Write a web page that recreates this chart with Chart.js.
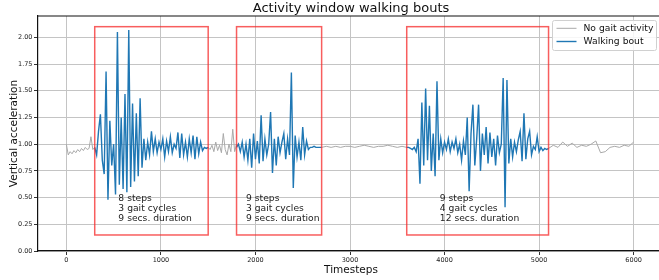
<!DOCTYPE html>
<html>
<head>
<meta charset="utf-8">
<script src="https://cdn.jsdelivr.net/npm/chart.js@4"></script>
<style>
  html, body { margin: 0; padding: 0; background: #fff; overflow: hidden; }
  #wrap { width: 664px; height: 280px; }
</style>
</head>
<body>
<div id="wrap"><canvas id="c" width="664" height="280"></canvas></div>
<script>
// quiet (no gait) stretches: start timestep, sample step, values
const idleStart = [0, 1500, 2700, 5100];
const idleStep = [20, 20, 50, 50];
const idleA = [1.00, 0.90, 0.93, 0.91, 0.94, 0.92, 0.95, 0.93, 0.96, 0.94, 0.97, 0.95, 0.96, 1.07, 0.95, 0.97];
const idleB = [0.97, 0.95, 0.99, 0.93, 1.02, 0.94, 0.99, 0.92, 1.10, 0.95, 0.90, 1.00, 0.93, 1.14, 0.93, 1.00];
const idleC = [0.97, 0.98, 0.97, 0.98, 0.97, 0.98, 0.98, 0.97, 0.98, 0.99, 0.98, 0.97, 0.98, 0.98, 0.99, 0.98, 0.97, 0.98, 0.97];
const idleD = [0.96, 0.99, 0.97, 1.02, 0.98, 1.01, 0.97, 0.99, 0.98, 1.00, 1.03, 0.92, 0.93, 0.97, 0.98, 0.97, 0.99, 0.98, 1.02];

// walking bouts, sampled every 20 timesteps
const boutStart = [300, 1800, 3600];
const boutStep = 20;
const boutA = [0.97, 0.90, 1.12, 1.28, 0.85, 0.72, 1.68, 0.48, 1.22, 0.80,
  1.00, 0.53, 2.05, 0.62, 1.25, 0.58, 1.47, 0.55, 2.07, 0.60,
  1.38, 0.65, 1.29, 0.70, 1.43, 0.78, 1.05, 0.85, 1.02, 0.90,
  1.12, 0.93, 1.05, 0.92, 1.02, 0.95, 1.05, 0.88, 1.03, 0.93,
  1.07, 0.92, 1.00, 0.96, 1.11, 0.87, 1.10, 0.90, 1.02, 0.88,
  1.05, 0.92, 1.08, 0.86, 1.07, 0.91, 1.02, 0.94, 0.97, 0.96, 0.97];
const boutB = [0.97, 1.00, 0.93, 1.02, 0.88, 1.00, 0.85, 1.05, 0.78, 1.10,
  0.86, 1.03, 0.82, 1.27, 0.84, 1.05, 0.90, 1.00, 1.30, 0.73,
  1.05, 0.80, 1.07, 0.92, 1.02, 1.10, 0.86, 1.05, 0.90, 1.67,
  0.59, 1.08, 0.88, 1.02, 0.85, 1.16, 0.90, 1.03, 0.95, 0.97,
  0.97, 0.98, 0.97, 0.97, 0.97, 0.97];
const boutC = [0.97, 0.97, 0.96, 0.95, 0.97, 0.93, 1.05, 0.63, 1.39, 0.80,
  1.52, 0.85, 1.36, 0.75, 1.10, 0.70, 1.59, 0.85, 1.05, 0.92,
  1.02, 0.95, 1.05, 0.93, 1.02, 0.96, 1.05, 0.92, 1.00, 0.85,
  1.03, 0.90, 1.25, 0.56, 1.10, 1.37, 0.80, 1.05, 1.37, 0.75,
  1.10, 0.90, 1.16, 0.82, 1.11, 0.88, 1.05, 0.80, 1.08, 0.92,
  1.00, 1.62, 0.41, 1.60, 0.82, 1.05, 0.88, 1.02, 0.93, 1.04,
  1.12, 0.84, 1.29, 0.86, 1.05, 1.12, 0.90, 0.98, 0.95, 1.07,
  0.93, 0.97, 0.94, 0.96, 0.95, 0.96];

// red boxes around each bout and their notes
const boxFrom = [300, 1800, 3600];
const boxTo = [1500, 2700, 5100];
const boxLow = 0.15;
const boxHigh = 2.1;
const noteX = [550, 1900, 3950];
const noteLineY = [0.49, 0.395, 0.30];
const boutNotes = [
  ['8 steps', '3 gait cycles', '9 secs. duration'],
  ['9 steps', '3 gait cycles', '9 secs. duration'],
  ['9 steps', '4 gait cycles', '12 secs. duration']
];

const xTicks = [0, 1000, 2000, 3000, 4000, 5000, 6000];
const yTicks = [0, 0.25, 0.5, 0.75, 1.0, 1.25, 1.5, 1.75, 2.0];

function toPoints(starts, steps, lists) {
  const pts = [];
  lists.forEach((vals, k) => {
    const step = Array.isArray(steps) ? steps[k] : steps;
    vals.forEach((v, i) => pts.push({ x: starts[k] + i * step, y: v }));
    pts.push({ x: starts[k] + vals.length * step, y: null });
  });
  return pts;
}

const FONT = '"DejaVu Sans", sans-serif';
const BLUE = '#1f77b4';
const GREY = '#a9a9a9';

const extras = {
  id: 'extras',
  afterDatasetsDraw(chart) {
    const { ctx, chartArea: a, scales: { x, y } } = chart;
    ctx.save();
    // boxes
    ctx.strokeStyle = 'rgba(245,40,40,0.75)';
    ctx.lineWidth = 1.5;
    boxFrom.forEach((f, i) => {
      const x0 = x.getPixelForValue(f), x1 = x.getPixelForValue(boxTo[i]);
      const y0 = y.getPixelForValue(boxHigh), y1 = y.getPixelForValue(boxLow);
      ctx.strokeRect(x0, y0, x1 - x0, y1 - y0);
    });
    // notes
    ctx.fillStyle = '#222';
    ctx.font = '9.2px ' + FONT;
    ctx.textBaseline = 'middle';
    ctx.textAlign = 'left';
    boutNotes.forEach((lines, i) => {
      lines.forEach((t, j) => ctx.fillText(t, x.getPixelForValue(noteX[i]), y.getPixelForValue(noteLineY[j])));
    });
    // top spine
    ctx.strokeStyle = '#111';
    ctx.lineWidth = 1.2;
    ctx.beginPath();
    ctx.moveTo(a.left, a.top);
    ctx.lineTo(a.right, a.top);
    ctx.stroke();
    ctx.restore();
  },
  afterDraw(chart) {
    const { ctx, chartArea: a } = chart;
    ctx.save();
    // title and axis labels
    ctx.fillStyle = '#111';
    ctx.font = '13px ' + FONT;
    ctx.textAlign = 'center';
    ctx.textBaseline = 'alphabetic';
    ctx.fillText('Activity window walking bouts', 351, 12);
    ctx.font = '10.5px ' + FONT;
    ctx.fillText('Timesteps', 351, 273);
    ctx.save();
    ctx.translate(16.5, (a.top + a.bottom) / 2);
    ctx.rotate(-Math.PI / 2);
    ctx.fillText('Vertical acceleration', 0, 0);
    ctx.restore();
    // legend
    const lx = 552.5, ly = 20.5, lw = 104, lh = 30;
    ctx.fillStyle = 'rgba(255,255,255,0.85)';
    ctx.strokeStyle = '#d0d0d0';
    ctx.lineWidth = 1;
    ctx.beginPath();
    ctx.roundRect(lx, ly, lw, lh, 2);
    ctx.fill();
    ctx.stroke();
    const items = [[chart.data.datasets[1].label, GREY, 1, 28.3], [chart.data.datasets[0].label, BLUE, 1.4, 41.5]];
    ctx.font = '9.2px ' + FONT;
    ctx.textAlign = 'left';
    ctx.textBaseline = 'middle';
    items.forEach(([label, col, w, yy]) => {
      ctx.strokeStyle = col;
      ctx.lineWidth = w;
      ctx.beginPath();
      ctx.moveTo(556.5, yy);
      ctx.lineTo(576.5, yy);
      ctx.stroke();
      ctx.fillStyle = '#111';
      ctx.fillText(label, 583.5, yy + 0.5);
    });
    ctx.restore();
  }
};

new Chart(document.getElementById('c'), {
  type: 'line',
  data: {
    datasets: [
      {
        label: 'Walking bout',
        data: toPoints(boutStart, boutStep, [boutA, boutB, boutC]),
        borderColor: BLUE, borderWidth: 1.4, pointRadius: 0, order: 0
      },
      {
        label: 'No gait activity',
        data: toPoints(idleStart, idleStep, [idleA, idleB, idleC, idleD]),
        borderColor: GREY, borderWidth: 1, pointRadius: 0, order: 1
      }
    ]
  },
  options: {
    responsive: false,
    animation: false,
    devicePixelRatio: 1,
    spanGaps: false,
    elements: { line: { tension: 0 } },
    layout: { padding: { left: 0, top: 16, right: 2, bottom: 0 } },
    plugins: { legend: { display: false }, tooltip: { enabled: false }, title: { display: false } },
    scales: {
      x: {
        type: 'linear', min: -300, max: 6300,
        afterBuildTicks: s => { s.ticks = xTicks.map(v => ({ value: v })); },
        afterFit: s => { s.height = 29; },
        grid: { color: '#c4c4c4', lineWidth: 1, tickColor: '#333', tickLength: 4 },
        border: { color: '#111', width: 1.2 },
        ticks: { font: { family: FONT, size: 6.5 }, color: '#222', padding: 1, maxRotation: 0, callback: v => String(v) }
      },
      y: {
        min: 0, max: 2.2,
        afterBuildTicks: s => { s.ticks = yTicks.map(v => ({ value: v })); },
        afterFit: s => { s.width = 38; },
        grid: { color: '#c4c4c4', lineWidth: 1, tickColor: '#333', tickLength: 4 },
        border: { color: '#111', width: 1.2 },
        ticks: { font: { family: FONT, size: 6.5 }, color: '#222', padding: 1.5, callback: v => v.toFixed(2) }
      }
    }
  },
  plugins: [extras]
});
</script>
</body>
</html>
